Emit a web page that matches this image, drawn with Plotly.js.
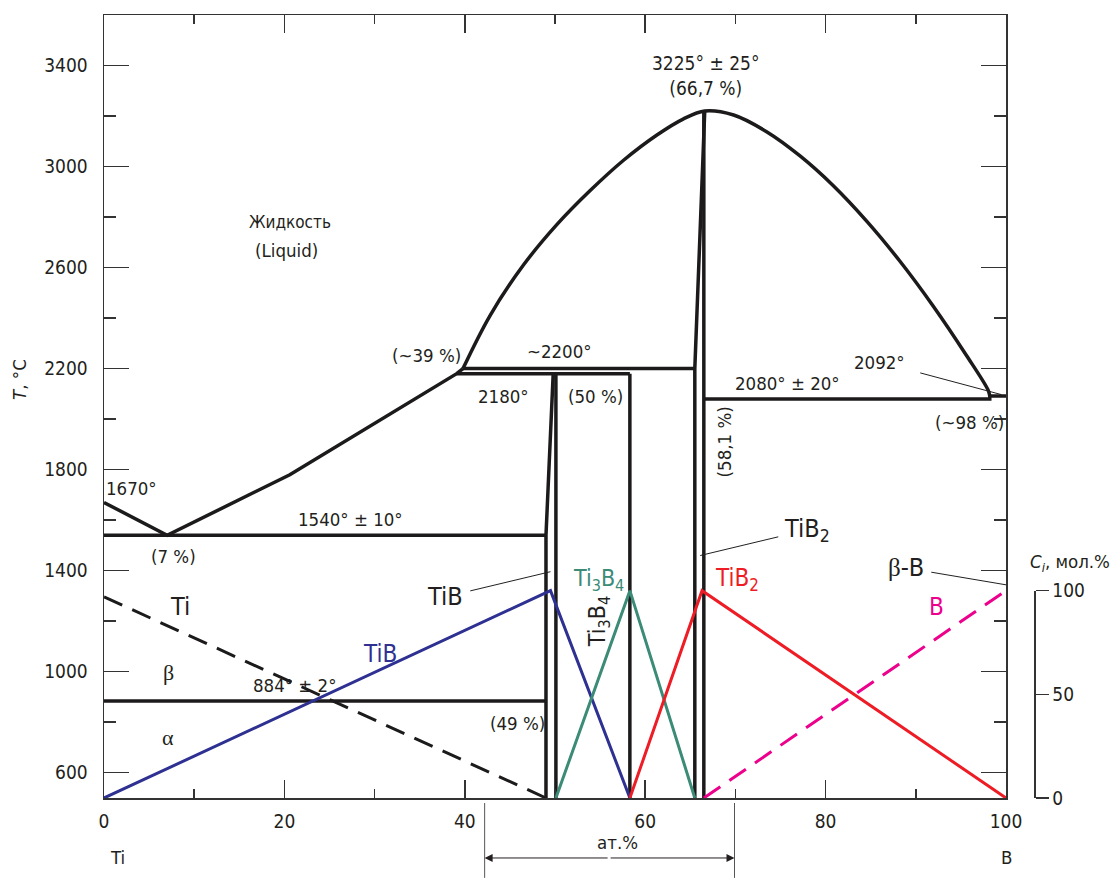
<!DOCTYPE html>
<html>
<head>
<meta charset="utf-8">
<script src="https://cdn.plot.ly/plotly-3.0.1.min.js"></script>
<style>html,body{margin:0;padding:0;background:#fff;}</style>
</head>
<body>
<div id="chart" style="width:1115px;height:878px;"></div>
<script>
// ---- Phase boundaries (x: at.% B, T: °C) ----
const liqLeftX = [0, 7, 20.6, 39.1, 39.8];
const liqLeftT = [1670, 1540, 1780, 2180, 2200];
const domeX = [39.8, 42.8, 46.5, 50.2, 53.9, 57.6, 61.3, 64.2, 66.6, 69.8, 73.5, 77.2, 80.8, 84.6, 88.2, 91.9, 95.6, 98.0, 98.2];
const domeT = [2200, 2410, 2610, 2770, 2905, 3025, 3125, 3188, 3220, 3204, 3137, 3041, 2926, 2782, 2627, 2449, 2253, 2116, 2092];
const eut1540X = [0, 49.0];      const eut1540T = [1540, 1540];
const ti884X = [0, 49.0];        const ti884T = [884, 884];
const per2180X = [39.1, 58.3];   const per2180T = [2180, 2180];
const per2200X = [39.8, 65.5];   const per2200T = [2200, 2200];
const eut2080X = [66.5, 98.2, 98.2, 100]; const eut2080T = [2080, 2080, 2092, 2092];
const tibLeftX = [49.0, 49.0, 49.8];  const tibLeftT = [500, 1540, 2180];
const tibRightX = [50.1, 50.1];       const tibRightT = [500, 2180];
const ti3b4X = [58.3, 58.3];          const ti3b4T = [500, 2180];
const tib2LeftX = [65.5, 65.5, 66.6]; const tib2LeftT = [500, 2200, 3220];
const tib2RightX = [66.5, 66.5];      const tib2RightT = [500, 3220];

// ---- Phase content Ci, mol.% ----
const ciTiX = [0, 49.0];            const ciTi = [97, 0];
const ciTiBX = [0, 49.5, 58.3];     const ciTiB = [0, 100, 0];
const ciTi3B4X = [50.1, 58.3, 65.5];const ciTi3B4 = [0, 100, 0];
const ciTiB2X = [58.3, 66.3, 100];  const ciTiB2 = [0, 100, 0];
const ciBX = [66.5, 100];           const ciB = [0, 100];

const xTicks = [0, 20, 40, 60, 80, 100];
const tTicks = [600, 1000, 1400, 1800, 2200, 2600, 3000, 3400];
const ciTicks = [0, 50, 100];

const FONT = '"Liberation Sans Narrow", "Arial Narrow", "DejaVu Sans Condensed", sans-serif';
const SERIF = "'Liberation Serif', 'DejaVu Serif', serif";
const INK = '#231f20';
const PH = {color: '#1c1a1b', width: 3.5};
const NUM = 18.5;

function ph(x, y, extra) {
  return Object.assign({x: x, y: y, type: 'scatter', mode: 'lines', line: PH, hoverinfo: 'skip', showlegend: false, xaxis: 'x', yaxis: 'y'}, extra || {});
}
function ci(x, y, color, dash) {
  return {x: x, y: y, type: 'scatter', mode: 'lines', line: {color: color, width: 3, dash: dash || 'solid'}, hoverinfo: 'skip', showlegend: false, xaxis: 'x', yaxis: 'y2'};
}

const traces = [
  ph(liqLeftX, liqLeftT),
  ph(domeX, domeT, {line: {color: '#1c1a1b', width: 3.5, shape: 'spline', smoothing: 1}}),
  ph(eut1540X, eut1540T), ph(ti884X, ti884T), ph(per2180X, per2180T), ph(per2200X, per2200T),
  ph(eut2080X, eut2080T), ph(tibLeftX, tibLeftT), ph(tibRightX, tibRightT), ph(ti3b4X, ti3b4T),
  ph(tib2LeftX, tib2LeftT), ph(tib2RightX, tib2RightT),
  ci(ciTiX, ciTi, '#1c1a1b', '20px,11px'),
  ci(ciTiBX, ciTiB, '#2e3192'),
  ci(ciTi3B4X, ciTi3B4, '#3b8b77'),
  ci(ciTiB2X, ciTiB2, '#ee1c25'),
  ci(ciBX, ciB, '#ec008c', '20px,11px'),
  {x: [null], y: [null], type: 'scatter', mode: 'lines', xaxis: 'x', yaxis: 'y3', showlegend: false, hoverinfo: 'skip'}
];

function lab(x, y, text, size, extra) {
  return Object.assign({x: x, y: y, xref: 'x', yref: 'y', text: text, showarrow: false,
    xanchor: 'center', yanchor: 'middle',
    font: {family: FONT, size: size || NUM, color: INK}}, extra || {});
}
function leader(tx, ty, px, py, text, size, standoff) {
  return {x: px, y: py, ax: tx, ay: ty, xref: 'x', yref: 'y', axref: 'x', ayref: 'y', text: text,
    showarrow: true, arrowhead: 0, arrowwidth: 1, arrowcolor: INK, startstandoff: standoff || 0,
    font: {family: FONT, size: size || 25, color: INK}};
}
function plab(x, y, xref, text, size, extra) {
  return Object.assign({x: x, y: y, xref: xref, yref: 'paper', text: text, showarrow: false,
    xanchor: 'center', yanchor: 'middle', font: {family: FONT, size: size || NUM, color: INK}}, extra || {});
}
const beta = '<span style="font-family:' + SERIF + '">β</span>';
const alpha = '<span style="font-family:' + SERIF + '">α</span>';

const annotations = [
  lab(20.6, 2782, 'Жидкость', 17),
  lab(20.2, 2669, '(Liquid)', NUM),
  lab(66.7, 3359, '3225° ± 25°<br>(66,7 %)', 19),
  lab(35.7, 2250, '(~39 %)'),
  lab(50.5, 2266, '~2200°'),
  lab(44.3, 2091, '2180°'),
  lab(54.5, 2091, '(50 %)'),
  lab(68.8, 1910, '(58,1 %)', NUM, {textangle: -90}),
  lab(75.8, 2143, '2080° ± 20°'),
  lab(96.0, 1985, '(~98 %)'),
  lab(3.0, 1724, '1670°'),
  lab(27.3, 1601, '1540° ± 10°'),
  lab(7.75, 1455, '(7 %)'),
  lab(8.4, 1257, 'Ti', 25),
  lab(7.1, 996, beta, 22),
  lab(7.1, 739, alpha, 22),
  lab(21.2, 944, '884° ± 2°'),
  lab(30.6, 1071, 'TiB', 24, {font: {family: FONT, size: 24, color: '#2e3192'}}),
  lab(54.8, 1364, 'Ti<sub>3</sub>B<sub>4</sub>', 23, {font: {family: FONT, size: 23, color: '#3b8b77'}}),
  lab(54.9, 1197, 'Ti<sub>3</sub>B<sub>4</sub>', 23, {textangle: -90}),
  lab(70.2, 1364, 'TiB<sub>2</sub>', 24, {font: {family: FONT, size: 24, color: '#ee1c25'}}),
  lab(92.3, 1257, 'B', 24, {font: {family: FONT, size: 24, color: '#ec008c'}}),
  lab(45.8, 794, '(49 %)'),
  leader(37.8, 1296, 49.5, 1396, 'TiB', 25, 6),
  leader(77.9, 1561, 66.1, 1460, 'TiB<sub>2</sub>', 25, 4),
  leader(88.9, 1411, 100, 1344, beta + '-B', 25, 6),
  leader(86.0, 2226, 99.5, 2097, '2092°', NUM, 14),
  // axis captions
  plab(-0.0903, 0.534, 'paper', '<i>T</i>, °C', NUM, {textangle: -90}),
  plab(1.0387, 0.300, 'paper', '<i>C<sub>i</sub></i>, мол.%', NUM),
  plab(1.5, -0.0766, 'x', 'Ti', NUM),
  plab(100, -0.0766, 'x', 'B', NUM),
  plab(56.9, -0.0562, 'x', 'ат.%', NUM),
  // double arrow
  {x: 42.2, y: -0.0766, ax: 56, ay: -0.0766, xref: 'x', yref: 'paper', axref: 'x', ayref: 'paper', text: '',
   showarrow: true, arrowhead: 2, arrowsize: 1.6, arrowwidth: 1, arrowcolor: INK},
  {x: 69.9, y: -0.0766, ax: 56, ay: -0.0766, xref: 'x', yref: 'paper', axref: 'x', ayref: 'paper', text: '',
   showarrow: true, arrowhead: 2, arrowsize: 1.6, arrowwidth: 1, arrowcolor: INK}
];

const shapes = [
  {type: 'line', xref: 'x', yref: 'paper', x0: 42.2, x1: 42.2, y0: -0.0064, y1: -0.102, line: {color: '#555', width: 1}},
  {type: 'line', xref: 'x', yref: 'paper', x0: 69.9, x1: 69.9, y0: -0.0064, y1: -0.102, line: {color: '#555', width: 1}}
];

const axisCommon = {showgrid: false, zeroline: false, showline: true, linecolor: '#333', linewidth: 1.5,
  tickcolor: '#333', tickwidth: 1.5, tickfont: {family: FONT, size: 19, color: INK}, fixedrange: true};

const layout = {
  width: 1115, height: 878,
  margin: {l: 104, r: 81, t: 15, b: 80, pad: 0},
  paper_bgcolor: '#fff', plot_bgcolor: 'rgba(0,0,0,0)',
  showlegend: false,
  xaxis: Object.assign({}, axisCommon, {domain: [0, 0.9699], range: [0, 100], anchor: 'y',
    tickmode: 'array', tickvals: xTicks, ticktext: xTicks.map(String), ticks: 'inside', ticklen: 18, mirror: 'ticks',
    minor: {dtick: 10, tick0: 0, ticks: 'inside', ticklen: 9, tickcolor: '#333', tickwidth: 1.5}, ticklabelstandoff: 6}),
  yaxis: Object.assign({}, axisCommon, {domain: [0, 1], range: [500, 3600], anchor: 'x',
    tickmode: 'array', tickvals: tTicks, ticktext: tTicks.map(String), ticks: 'inside', ticklen: 25, mirror: 'ticks',
    minor: {dtick: 200, tick0: 600, ticks: 'inside', ticklen: 12, tickcolor: '#333', tickwidth: 1.5}, ticklabelstandoff: 11}),
  yaxis2: {domain: [0, 0.28], range: [0, 105.74], anchor: 'x', visible: false, fixedrange: true},
  yaxis3: Object.assign({}, axisCommon, {domain: [0, 0.2648], range: [0, 100], anchor: 'free', position: 1, side: 'right',
    tickmode: 'array', tickvals: ciTicks, ticktext: ciTicks.map(String), ticks: 'outside', ticklen: 13, ticklabelstandoff: 0}),
  annotations: annotations,
  shapes: shapes
};

Plotly.newPlot('chart', traces, layout, {staticPlot: true, displayModeBar: false});
</script>
</body>
</html>
